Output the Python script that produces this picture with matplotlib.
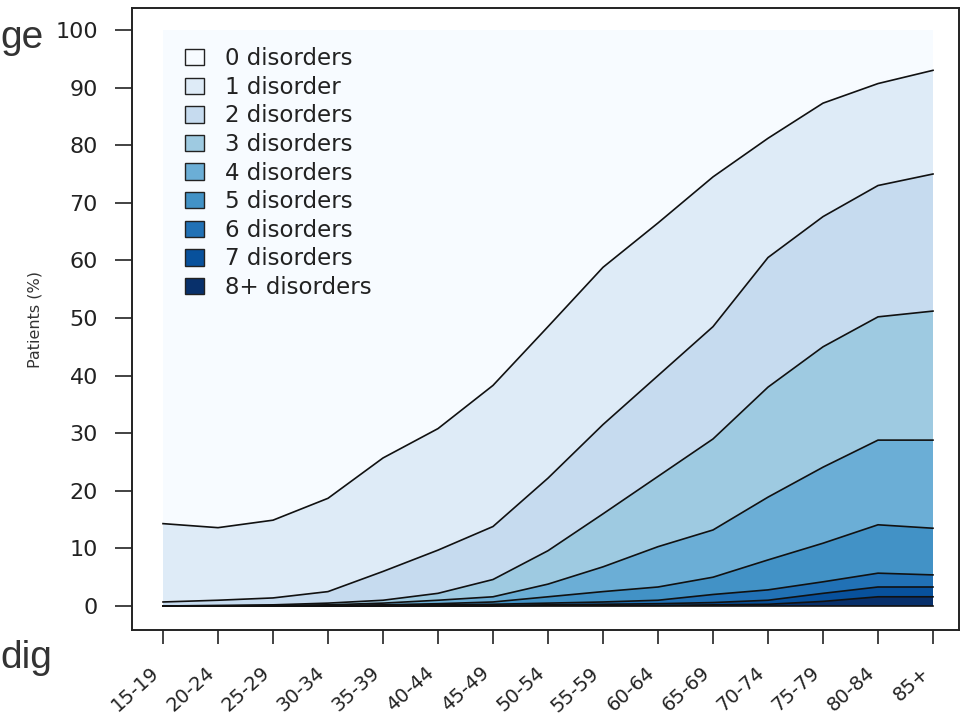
import matplotlib
matplotlib.use("Agg")
import matplotlib.pyplot as plt
from matplotlib.patches import Patch
import numpy as np

plt.rcParams['font.family'] = ['DejaVu Sans']

age_groups = ["15-19", "20-24", "25-29", "30-34", "35-39", "40-44", "45-49",
              "50-54", "55-59", "60-64", "65-69", "70-74", "75-79", "80-84", "85+"]

# Cumulative share of patients with at least k disorders (%)
at_least_1 = [14.3, 13.6, 14.9, 18.7, 25.7, 30.8, 38.3, 48.5, 58.8, 66.5, 74.5, 81.2, 87.3, 90.7, 93.0]
at_least_2 = [0.7, 1.0, 1.4, 2.5, 6.0, 9.7, 13.8, 22.2, 31.5, 40.0, 48.5, 60.5, 67.6, 73.0, 75.0]
at_least_3 = [0.0, 0.1, 0.2, 0.5, 1.0, 2.2, 4.6, 9.6, 16.0, 22.5, 29.0, 38.0, 45.0, 50.2, 51.2]
at_least_4 = [0.0, 0.0, 0.1, 0.2, 0.5, 1.0, 1.6, 3.8, 6.8, 10.3, 13.2, 18.9, 24.1, 28.8, 28.8]
at_least_5 = [0.0, 0.0, 0.0, 0.1, 0.2, 0.4, 0.7, 1.6, 2.5, 3.3, 5.0, 8.0, 10.9, 14.1, 13.5]
at_least_6 = [0.0, 0.0, 0.0, 0.0, 0.1, 0.2, 0.3, 0.5, 0.7, 1.0, 2.0, 2.8, 4.2, 5.7, 5.4]
at_least_7 = [0.0, 0.0, 0.0, 0.0, 0.0, 0.1, 0.1, 0.2, 0.3, 0.4, 0.6, 1.0, 2.2, 3.3, 3.3]
at_least_8 = [0.0, 0.0, 0.0, 0.0, 0.0, 0.0, 0.0, 0.1, 0.1, 0.1, 0.2, 0.3, 0.8, 1.6, 1.6]

labels = ["0 disorders", "1 disorder", "2 disorders", "3 disorders", "4 disorders",
          "5 disorders", "6 disorders", "7 disorders", "8+ disorders"]
colors = ["#F7FBFF", "#DEEBF7", "#C6DBEF", "#9ECAE1", "#6BAED6",
          "#4292C6", "#2171B5", "#08519C", "#08306B"]

x = np.arange(len(age_groups))
total = [100.0] * len(age_groups)
zero = [0.0] * len(age_groups)
bounds = [total, at_least_1, at_least_2, at_least_3, at_least_4,
          at_least_5, at_least_6, at_least_7, at_least_8, zero]

fig = plt.figure(figsize=(9.63, 7.2), dpi=100)
ax = fig.add_axes([132/963, 1 - 630/720, (959-132)/963, (630-8)/720])

for i in range(9):
    ax.fill_between(x, bounds[i + 1], bounds[i], facecolor=colors[i],
                    edgecolor='none', linewidth=0)
for b in bounds[1:]:
    ax.plot(x, b, color='#111111', linewidth=1.2)

ax.set_xlim(-31/55, 14 + 26/55)
ax.set_ylim(-24/5.76, 100 + 22/5.76)

ax.set_yticks(np.arange(0, 101, 10))
ax.set_xticks(x)
ax.set_xticklabels(age_groups, rotation=42, ha='right', va='top')
ax.tick_params(axis='y', length=12.5, width=1.2, pad=12, labelsize=16,
               labelcolor='#222222', color='#222222')
ax.tick_params(axis='x', length=10, width=1.2, pad=14, labelsize=14,
               labelcolor='#222222', color='#222222')
for s in ax.spines.values():
    s.set_linewidth(1.4)
    s.set_color('#222222')

ax.set_ylabel("Patients (%)", fontsize=11.5, color='#333333')
ax.yaxis.set_label_coords(-0.108, 0.5)

handles = [Patch(facecolor=c, edgecolor='#222222', linewidth=1.0) for c in colors]
ax.legend(handles, labels, loc='upper left', bbox_to_anchor=(0.064, 0.937),
          frameon=False, fontsize=16.5, handlelength=0.85, handleheight=0.72,
          handletextpad=0.9, labelspacing=0.245, borderpad=0, borderaxespad=0,
          labelcolor='#222222')

fig.text(0.0, 1 - 48/720, "ge", fontsize=28, family='Liberation Sans',
         color='#333333', ha='left', va='baseline')
fig.text(0.0, 1 - 668/720, "dig", fontsize=28, family='Liberation Sans',
         color='#333333', ha='left', va='baseline')

fig.savefig("out.png", dpi=100)
